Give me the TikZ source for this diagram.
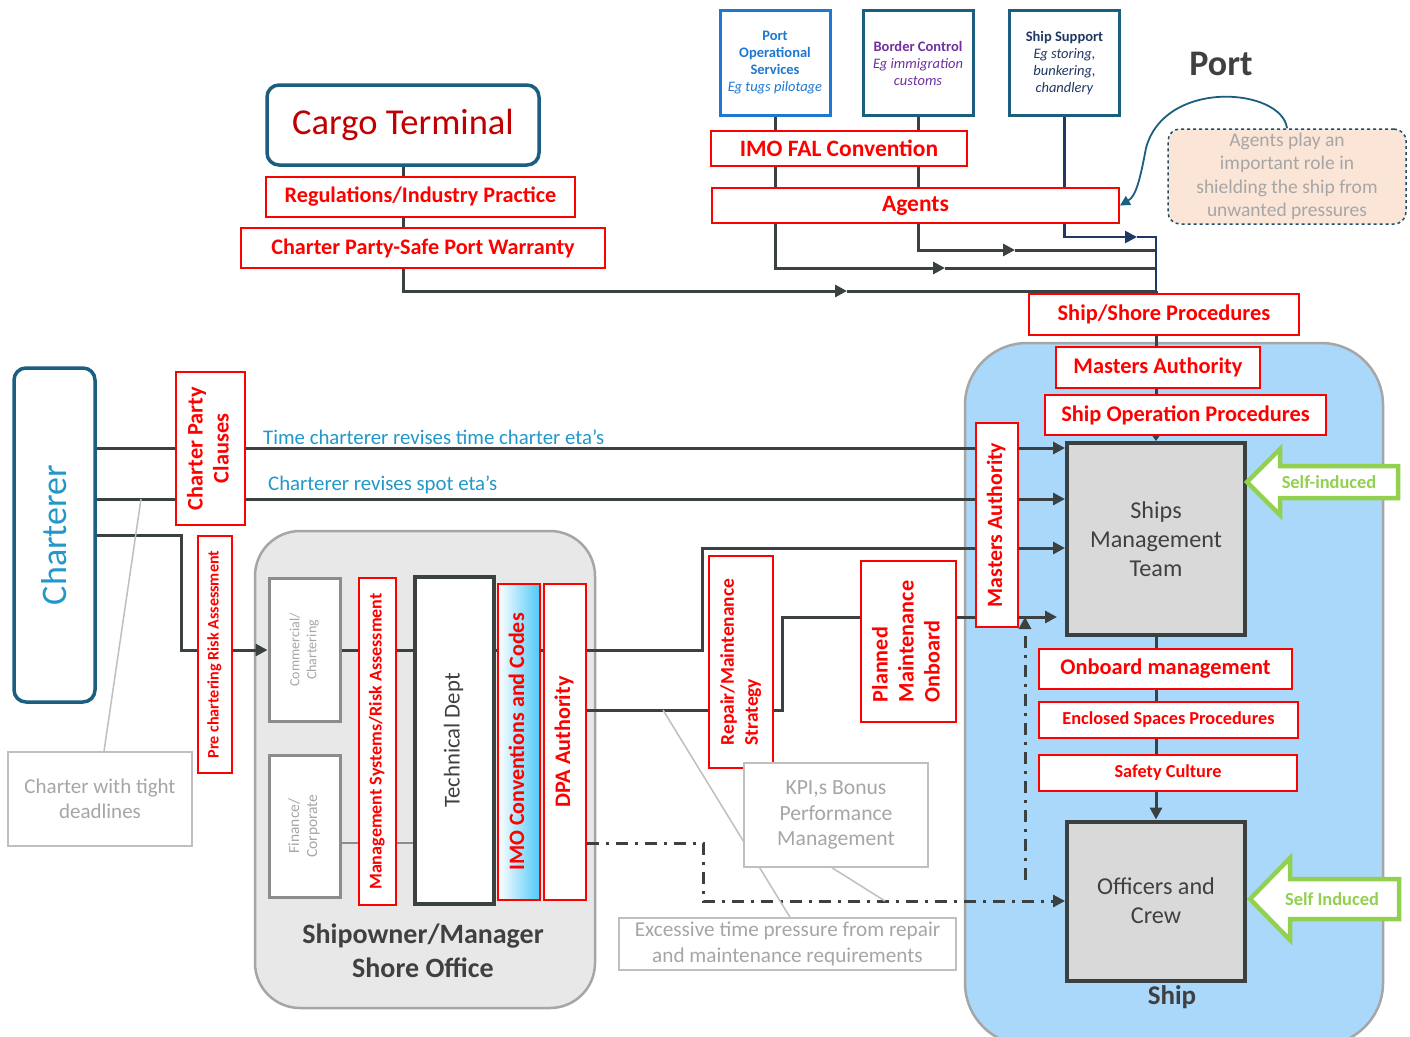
\documentclass[tikz,border=0pt]{standalone}
\usepackage{fontspec}
\setmainfont{Carlito}
\usetikzlibrary{arrows.meta}
\definecolor{myred}{HTML}{FF0000}
\definecolor{darkred}{HTML}{C00000}
\definecolor{dline}{HTML}{3B4141}
\definecolor{tealb}{HTML}{1B5E80}
\definecolor{chartblue}{HTML}{2198C9}
\definecolor{gtext}{HTML}{A6A6A6}
\definecolor{gborder}{HTML}{BFBFBF}
\definecolor{shorefill}{HTML}{E8E8E8}
\definecolor{contborder}{HTML}{A6A6A6}
\definecolor{shipfill}{HTML}{A9D8FA}
\definecolor{boxgrey}{HTML}{D9D9D9}
\definecolor{sigreen}{HTML}{92D050}
\definecolor{notefill}{HTML}{FBE5D6}
\definecolor{notebdr}{HTML}{1F4E6A}
\definecolor{purp}{HTML}{7030A0}
\definecolor{pblue}{HTML}{1E78D0}
\definecolor{navy}{HTML}{203864}
\definecolor{dgtext}{HTML}{404040}
\definecolor{skyb}{HTML}{4FC8F8}
\definecolor{midgrey}{HTML}{8C8C8C}
\newcommand\fsz[2]{\fontsize{#1}{#2}\selectfont}
\newcommand\vt[1]{\rotatebox{90}{\begin{tabular}{@{}c@{}}#1\end{tabular}}}
\newcommand\vtl[1]{\rotatebox{90}{\begin{tabular}{@{}l@{}}#1\end{tabular}}}
\pgfdeclarelayer{bg}
\pgfdeclarelayer{lines}
\pgfsetlayers{bg,lines,main}
\tikzset{
  rbox/.style={draw=myred, line width=1.8pt, fill=white, text=myred, inner sep=0pt, align=center},
  conn/.style={draw=dline, line width=3pt},
  navyconn/.style={draw=navy, line width=2.6pt},
  tip/.style={-{Triangle[length=12pt,width=12pt]}},
  gline/.style={draw=gborder, line width=1.5pt},
  dashdot/.style={draw=dline, line width=3pt, dash pattern=on 12pt off 7pt on 3pt off 7pt},
  gbox/.style={draw=gborder, line width=1.5pt, fill=white, text=gtext, align=center, inner sep=0pt},
  tealbox/.style={draw=tealb, line width=3.5pt, fill=white, rounded corners=12pt, inner sep=0pt},
  portbox/.style={fill=white, line width=3pt, align=center, inner sep=0pt, minimum width=110pt, minimum height=105pt},
  darkbox/.style={draw=dline, line width=4pt, fill=boxgrey, text=dgtext, align=center, inner sep=0pt},
  garrow/.style={draw=sigreen, line width=4.5pt, fill=white, line join=miter},
}
\begin{document}
\begin{tikzpicture}[x=1pt,y=-1pt]
\useasboundingbox (0,0) rectangle (1410,1036);

% containers
\begin{pgfonlayer}{bg}
\fill[white] (0,0) rectangle (1410,1036);
\begin{scope}
\clip (0,0) rectangle (1410,1036);
\node[draw=contborder, fill=shipfill, line width=2.5pt, rounded corners=62pt, minimum width=418pt, minimum height=702pt] (ship) at (1174,694) {};
\end{scope}
\node[draw=contborder, fill=shorefill, line width=2.5pt, rounded corners=45pt, minimum width=340pt, minimum height=477pt] (shore) at (425,769.5) {};
\end{pgfonlayer}

% port
\node[text=dgtext, font=\bfseries\fsz{36}{40}] (portlbl) at (1221,64) {Port};
\node[portbox, draw=pblue, text=pblue, font=\fsz{14.5}{17}] (pos) at (775,63) {\textbf{Port}\\\textbf{Operational}\\\textbf{Services}\\\textit{Eg tugs pilotage}};
\node[portbox, draw=tealb, text=purp, font=\fsz{14.5}{17}] (bc) at (918,63) {\textbf{Border Control}\\\textit{Eg immigration}\\\textit{customs}};
\node[portbox, draw=tealb, text=navy, font=\fsz{14.5}{17}] (ss) at (1064.5,63) {\textbf{Ship Support}\\\textit{Eg storing,}\\\textit{bunkering,}\\\textit{chandlery}};
\node[rbox, minimum width=256pt, minimum height=35pt, font=\bfseries\fsz{23.5}{26}] (fal) at (839,148.5) {IMO FAL Convention};
\node[rbox, minimum width=407pt, minimum height=35pt, font=\bfseries\fsz{23.5}{26}] (agents) at (915.5,205.5) {Agents};
\node[draw=notebdr, dashed, line width=1.5pt, fill=notefill, rounded corners=12pt, minimum width=238pt, minimum height=95pt, text=gtext, align=center, inner sep=0pt, font=\fsz{19.5}{23.5}] (note) at (1287,176.5) {Agents play an\\important role in\\shielding the ship from\\unwanted pressures};

% cargo terminal
\node[tealbox, minimum width=272pt, minimum height=80pt, text=darkred, font=\fsz{36.5}{40}] (cargo) at (403,125) {Cargo Terminal};
\node[rbox, minimum width=309pt, minimum height=40pt, font=\bfseries\fsz{22.2}{26}] (reg) at (420.5,197) {Regulations/Industry Practice};
\node[rbox, minimum width=364pt, minimum height=40pt, font=\bfseries\fsz{22.2}{26}] (cp) at (423,248) {Charter Party-Safe Port Warranty};

% ship side
\node[rbox, minimum width=270pt, minimum height=41pt, font=\bfseries\fsz{22.4}{26}] (shipshore) at (1164,314.5) {Ship/Shore Procedures};
\node[rbox, minimum width=204pt, minimum height=41pt, font=\bfseries\fsz{22.4}{26}] (ma) at (1158,367.5) {Masters Authority};
\node[rbox, minimum width=281pt, minimum height=40pt, font=\bfseries\fsz{22.4}{26}] (sop) at (1185.5,415) {Ship Operation Procedures};
\node[darkbox, minimum width=178pt, minimum height=192pt, font=\fsz{24.2}{29}] (smt) at (1156,539) {Ships\\Management\\Team};
\node[rbox, minimum width=253pt, minimum height=40pt, font=\bfseries\fsz{22.4}{26}] (onb) at (1165.5,669) {Onboard management};
\node[rbox, minimum width=259pt, minimum height=36pt, font=\bfseries\fsz{18.3}{22}] (esp) at (1168.5,720) {Enclosed Spaces Procedures};
\node[rbox, minimum width=258pt, minimum height=36pt, font=\bfseries\fsz{18.3}{22}] (sc) at (1168,773) {Safety Culture};
\node[darkbox, minimum width=178pt, minimum height=159pt, font=\fsz{24.2}{29}] (oc) at (1156,901) {Officers and\\Crew};
\node[text=dgtext, font=\bfseries\fsz{27}{30}] (shiplbl) at (1172,997) {Ship};
\node[rbox, minimum width=42pt, minimum height=204pt, font=\bfseries\fsz{21.8}{25}] (maV) at (997,525) {\vt{Masters Authority}};

% self induced arrows
\draw[garrow] (1247,482) -- (1280,449) -- (1280,466) -- (1398,466) -- (1398,498) -- (1280,498) -- (1280,515) -- cycle;
\node[text=sigreen, font=\bfseries\fsz{18.4}{20}] (si1) at (1329,482) {Self-induced};
\draw[garrow] (1250,899) -- (1290,858) -- (1290,879) -- (1399,879) -- (1399,919) -- (1290,919) -- (1290,940) -- cycle;
\node[text=sigreen, font=\bfseries\fsz{18.4}{20}] (si2) at (1332,899) {Self Induced};

% charterer
\node[tealbox, minimum width=81pt, minimum height=334pt, text=chartblue, font=\fsz{36}{40}] (charterer) at (54.5,535) {\rotatebox{90}{Charterer}};
\node[rbox, minimum width=69pt, minimum height=153pt, font=\bfseries\fsz{22.3}{26}] (cpc) at (210.5,448.5) {\vt{Charter Party\\Clauses}};
\node[rbox, minimum width=34pt, minimum height=237pt, font=\bfseries\fsz{16.1}{18}] (pcra) at (215,654.5) {\vt{Pre chartering Risk Assessment}};
\node[gbox, minimum width=184pt, minimum height=94pt, font=\fsz{21}{25}] (ctd) at (100,799) {Charter with tight\\deadlines};
\node[text=chartblue, anchor=west, inner sep=0pt, font=\fsz{20.8}{24}] (lbl1) at (263,437) {Time charterer revises time charter eta’s};
\node[text=chartblue, anchor=west, inner sep=0pt, font=\fsz{20.8}{24}] (lbl2) at (268,485) {Charterer revises spot eta’s};

% shore office
\node[draw=midgrey, line width=3pt, fill=white, text=gtext, inner sep=0pt, minimum width=71pt, minimum height=143pt, font=\fsz{14}{17}] (comm) at (304.5,650) {\vt{Commercial/\\Chartering}};
\node[draw=midgrey, line width=3pt, fill=white, text=gtext, inner sep=0pt, minimum width=71pt, minimum height=142pt, font=\fsz{15.5}{18}] (fin) at (304.5,826) {\vt{Finance/\\Corporate}};
\node[rbox, minimum width=37pt, minimum height=327pt, font=\bfseries\fsz{18.1}{20}] (msra) at (377.5,741.5) {\vt{Management Systems/Risk Assessment}};
\node[draw=dline, line width=3.5pt, fill=white, text=dgtext, inner sep=0pt, minimum width=79pt, minimum height=327pt, font=\fsz{22.7}{25}] (tech) at (454.5,740.5) {\vt{Technical Dept}};
\node[rbox, left color=white, right color=skyb, minimum width=42pt, minimum height=316pt, font=\bfseries\fsz{22}{25}] (imo) at (519,742) {\vt{IMO Conventions and Codes}};
\node[rbox, minimum width=42pt, minimum height=316pt, font=\bfseries\fsz{22.2}{25}] (dpa) at (565,742) {\vt{DPA Authority}};
\node[text=dgtext, align=center, font=\bfseries\fsz{28}{34}] (shorelbl) at (423,951) {Shipowner/Manager\\Shore Office};

% middle
\node[rbox, minimum width=64pt, minimum height=212pt, font=\bfseries\fsz{19.4}{24}] (rms) at (741,662) {\vtl{Repair/Maintenance\\Strategy}};
\node[rbox, minimum width=95pt, minimum height=161pt, font=\bfseries\fsz{22.2}{26}] (pmo) at (908.5,641.5) {\raisebox{-5pt}{\vtl{Planned\\Maintenance\\Onboard}}};
\node[gbox, minimum width=184pt, minimum height=104pt, font=\fsz{21.6}{25.5}] (kpi) at (836,815) {KPI,s Bonus\\Performance\\Management};
\node[gbox, minimum width=337pt, minimum height=52pt, font=\fsz{21.2}{26}] (exc) at (787.5,944) {Excessive time pressure from repair\\and maintenance requirements};

\coordinate (J) at (1156,291);
\coordinate (dd1) at (1025,880);
\coordinate (dd2) at (1025,617);

\begin{pgfonlayer}{lines}
% port connectors
\draw[conn,tip] (pos.south) |- (945,268);
\draw[conn] (945,268) -- (J |- 0,268);
\draw[conn,tip] (bc.south) |- (1015,250);
\draw[conn] (1015,250) -- (J |- 0,250);
\draw[conn,tip] (cargo.south) |- (847,291);
\draw[conn] (847,291) -- (J);
\draw[navyconn,tip] (ss.south) |- (1137,237);
\draw[navyconn] (1137,237) -| (J);
\draw[conn,-{Triangle[length=6pt,width=8pt]}] (J) -- (smt.north);
\draw[draw=tealb, line width=1.8pt, -{Triangle[length=10pt,width=10pt]}] (note.north) .. controls (1282,88) and (1165,78) .. (1146,148) .. controls (1140,180) and (1136,196) .. (agents.east);
% charterer connectors
\draw[conn,tip] (charterer.east |- 0,448) -- (smt.west |- 0,448);
\draw[conn,tip] (charterer.east |- 0,499) -- (smt.west |- 0,499);
\draw[conn,tip] (charterer.east |- 0,535) -| (181,650) -- (comm.west);
\draw[gline] (ctd.north -| 104,0) -- (141,499);
% shore connectors
\draw[conn,tip] (comm.east) -- (702,650) |- (smt.west |- 0,548);
\draw[draw=midgrey, line width=2.6pt] (fin.east |- 0,843) -- (tech.west |- 0,843);
\draw[dashdot,tip] (dpa.east |- 0,843) -- (703,843) |- (oc.west);
\draw[conn] (dpa.east |- 0,710) -- (782,710) |- (pmo.west |- 0,617);
\draw[conn,tip,shorten >=8pt] (pmo.east |- 0,617) -- (smt.west |- 0,617);
\draw[dashdot,tip] (dd1) -- (dd2);
\draw[gline] (exc.north -| 790,0) -- (663,710);
\draw[gline] (kpi.south -| 832,0) -- (885,901);
\draw[conn,tip] (smt.south) -- (oc.north);
\end{pgfonlayer}
\end{tikzpicture}
\end{document}
